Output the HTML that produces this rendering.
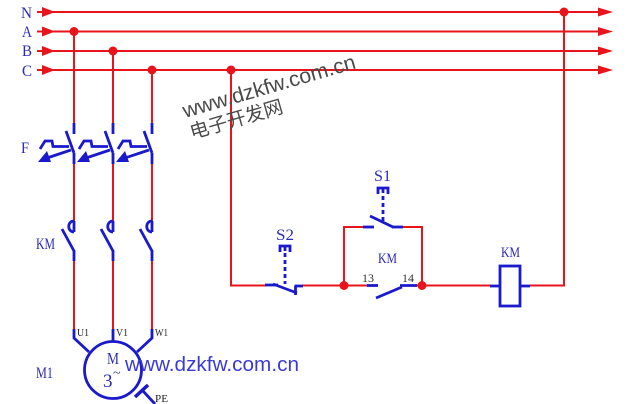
<!DOCTYPE html>
<html><head><meta charset="utf-8"><style>
html,body{margin:0;padding:0;background:#fff;}
svg{display:block;}
</style></head><body>
<svg width="640" height="404" viewBox="0 0 640 404" xmlns="http://www.w3.org/2000/svg">
<rect width="640" height="404" fill="#fff"/>
<!-- Bus labels -->
<g font-family="Liberation Serif, serif" fill="#2a2ab8" font-size="16">
<text x="21" y="18" textLength="11" lengthAdjust="spacingAndGlyphs">N</text>
<text x="22" y="37" textLength="10" lengthAdjust="spacingAndGlyphs">A</text>
<text x="22" y="56" textLength="10" lengthAdjust="spacingAndGlyphs">B</text>
<text x="22" y="76" textLength="10" lengthAdjust="spacingAndGlyphs">C</text>
<text x="21" y="153" textLength="8" lengthAdjust="spacingAndGlyphs">F</text>
<text x="36" y="249" textLength="19" lengthAdjust="spacingAndGlyphs">KM</text>
<text x="36" y="378" textLength="17" lengthAdjust="spacingAndGlyphs">M1</text>
<text x="276" y="240" textLength="18" lengthAdjust="spacingAndGlyphs">S2</text>
<text x="374" y="181" textLength="17" lengthAdjust="spacingAndGlyphs">S1</text>
<text x="378" y="263" textLength="19" lengthAdjust="spacingAndGlyphs" font-size="15">KM</text>
<text x="501" y="257" textLength="19" lengthAdjust="spacingAndGlyphs" font-size="15">KM</text>
</g>
<g font-family="Liberation Serif, serif" fill="#333" font-size="12">
<text x="362" y="282" textLength="12" lengthAdjust="spacingAndGlyphs">13</text>
<text x="402" y="282" textLength="12" lengthAdjust="spacingAndGlyphs">14</text>
</g>
<g font-family="Liberation Serif, serif" fill="#222" font-size="11">
<text x="77" y="336" textLength="12" lengthAdjust="spacingAndGlyphs">U1</text>
<text x="116" y="336" textLength="12" lengthAdjust="spacingAndGlyphs">V1</text>
<text x="155" y="336" textLength="13" lengthAdjust="spacingAndGlyphs">W1</text>
<text x="155" y="402" textLength="13" lengthAdjust="spacingAndGlyphs">PE</text>
</g>

<!-- Bus lines -->
<g stroke="#e8141c" stroke-width="2" fill="none">
<line x1="37" y1="12" x2="602" y2="12"/>
<line x1="37" y1="31.5" x2="602" y2="31.5"/>
<line x1="37" y1="51" x2="602" y2="51"/>
<line x1="37" y1="70" x2="602" y2="70"/>
</g>
<g fill="#e8141c">
<polygon points="42,7 55,12 42,17"/>
<polygon points="42,26.5 55,31.5 42,36.5"/>
<polygon points="42,46 55,51 42,56"/>
<polygon points="42,65 55,70 42,75"/>
<polygon points="598,7.5 613,12 598,16.5"/>
<polygon points="598,27 613,31.5 598,36"/>
<polygon points="598,46.5 613,51 598,55.5"/>
<polygon points="598,65.5 613,70 598,74.5"/>
<circle cx="74" cy="31.5" r="4.5"/>
<circle cx="113" cy="51" r="4.5"/>
<circle cx="152" cy="70" r="4.5"/>
<circle cx="231" cy="70" r="4.5"/>
<circle cx="564" cy="12" r="4.5"/>
<circle cx="344" cy="285.5" r="4.5"/>
<circle cx="422" cy="285.5" r="4.5"/>
</g>

<!-- Power circuit red verticals -->
<g stroke="#e8141c" stroke-width="2" fill="none">
<line x1="74" y1="31.5" x2="74" y2="124"/>
<line x1="113" y1="51" x2="113" y2="124"/>
<line x1="152" y1="70" x2="152" y2="124"/>
<line x1="74" y1="163" x2="74" y2="222"/>
<line x1="113" y1="163" x2="113" y2="222"/>
<line x1="152" y1="163" x2="152" y2="222"/>
<line x1="74" y1="260" x2="74" y2="330"/>
<line x1="113" y1="260" x2="113" y2="330"/>
<line x1="152" y1="260" x2="152" y2="330"/>
</g>

<!-- Breakers F -->
<g stroke="#1a1acc" stroke-width="2.8" fill="none" stroke-linecap="butt">
<g>
<line x1="74" y1="123" x2="74" y2="134"/>
<line x1="66" y1="131" x2="74" y2="153"/>
<line x1="74" y1="153" x2="74" y2="164"/>
<polyline points="40,149 45,141 52,141 53,146.5 69,146.5"/>
<line x1="71" y1="150" x2="47" y2="158"/>
</g>
<g transform="translate(39,0)">
<line x1="74" y1="123" x2="74" y2="134"/>
<line x1="66" y1="131" x2="74" y2="153"/>
<line x1="74" y1="153" x2="74" y2="164"/>
<polyline points="40,149 45,141 52,141 53,146.5 69,146.5"/>
<line x1="71" y1="150" x2="47" y2="158"/>
</g>
<g transform="translate(78,0)">
<line x1="74" y1="123" x2="74" y2="134"/>
<line x1="66" y1="131" x2="74" y2="153"/>
<line x1="74" y1="153" x2="74" y2="164"/>
<polyline points="40,149 45,141 52,141 53,146.5 69,146.5"/>
<line x1="71" y1="150" x2="47" y2="158"/>
</g>
</g>
<g fill="#1a1acc">
<polygon points="38,162 47,151 51,162"/>
<polygon points="77,162 86,151 90,162"/>
<polygon points="116,162 125,151 129,162"/>
</g>

<!-- KM main contacts -->
<g stroke="#1a1acc" stroke-width="2.8" fill="none">
<g>
<path d="M74,221 C67,221 67,232 74,232"/>
<line x1="74" y1="221" x2="74" y2="232"/>
<line x1="62" y1="229" x2="74" y2="251"/>
<line x1="74" y1="250" x2="74" y2="261"/>
</g>
<g transform="translate(39,0)">
<path d="M74,221 C67,221 67,232 74,232"/>
<line x1="74" y1="221" x2="74" y2="232"/>
<line x1="62" y1="229" x2="74" y2="251"/>
<line x1="74" y1="250" x2="74" y2="261"/>
</g>
<g transform="translate(78,0)">
<path d="M74,221 C67,221 67,232 74,232"/>
<line x1="74" y1="221" x2="74" y2="232"/>
<line x1="62" y1="229" x2="74" y2="251"/>
<line x1="74" y1="250" x2="74" y2="261"/>
</g>
<!-- motor leads -->
<polyline points="74,329 74,338 89,352"/>
<line x1="113" y1="329" x2="113" y2="342"/>
<polyline points="152,329 152,338 137,352"/>
<circle cx="113" cy="370" r="28.5"/>
<line x1="143" y1="391" x2="155" y2="404"/>
</g>
<line x1="135" y1="397" x2="148" y2="385" stroke="#1a1acc" stroke-width="3.5"/>
<g font-family="Liberation Serif, serif" fill="#2a2ab8">
<text x="107" y="364" font-size="17" textLength="12" lengthAdjust="spacingAndGlyphs">M</text>
<text x="103" y="387" font-size="19">3</text>
<text x="113" y="377" font-size="14">~</text>
</g>

<!-- Control circuit red -->
<g stroke="#e8141c" stroke-width="2" fill="none">
<polyline points="231,70 231,285.5 266,285.5"/>
<line x1="302" y1="285.5" x2="368" y2="285.5"/>
<polyline points="344,285.5 344,227 363,227"/>
<polyline points="403,227 422,227 422,285.5"/>
<line x1="416" y1="285.5" x2="491" y2="285.5"/>
<polyline points="530,285.5 564,285.5 564,12"/>
</g>

<!-- Control circuit blue -->
<g stroke="#1a1acc" stroke-width="2.8" fill="none">
<!-- S2 NC -->
<line x1="265" y1="285" x2="278" y2="285"/>
<line x1="273" y1="284" x2="297" y2="293"/>
<line x1="295.5" y1="286" x2="295.5" y2="295"/>
<line x1="294.5" y1="286" x2="303" y2="286"/>
<line x1="285" y1="253" x2="285" y2="284" stroke-dasharray="4,3"/>
<polyline points="280,252 280,246 290,246 290,252"/>
<line x1="285" y1="246" x2="285" y2="251"/>
<!-- S1 NO -->
<line x1="363" y1="227" x2="374" y2="227"/>
<line x1="370" y1="216" x2="393" y2="227"/>
<line x1="392" y1="227" x2="403" y2="227"/>
<line x1="383" y1="196" x2="383" y2="221" stroke-dasharray="4,3"/>
<polyline points="378,194 378,188 388,188 388,194"/>
<line x1="383" y1="188" x2="383" y2="193"/>
<!-- KM aux NO -->
<line x1="367" y1="285.5" x2="378" y2="285.5"/>
<line x1="376" y1="298" x2="402" y2="287"/>
<line x1="400" y1="285.5" x2="417" y2="285.5"/>
<!-- coil -->
<line x1="490" y1="286" x2="501" y2="286"/>
<rect x="500" y="266" width="20" height="40"/>
<line x1="519" y1="286" x2="530" y2="286"/>
</g>

<!-- Watermarks -->
<g transform="translate(185,118) rotate(-16.2)">
<text x="0" y="0" font-family="Liberation Sans, sans-serif" font-size="21" fill="#4a4a4a" textLength="179" lengthAdjust="spacingAndGlyphs">www.dzkfw.com.cn</text>
</g>
<g transform="translate(192,139) rotate(-16.2)">
<text x="0" y="0" font-family="Liberation Sans, 'Noto Sans CJK SC', sans-serif" font-size="19" fill="#4a4a4a" textLength="96" lengthAdjust="spacingAndGlyphs">电子开发网</text>
</g>
<text x="125" y="371" font-family="Liberation Sans, sans-serif" font-size="20.5" fill="#3a3ad8" textLength="174" lengthAdjust="spacingAndGlyphs">www.dzkfw.com.cn</text>
</svg>
</body></html>
